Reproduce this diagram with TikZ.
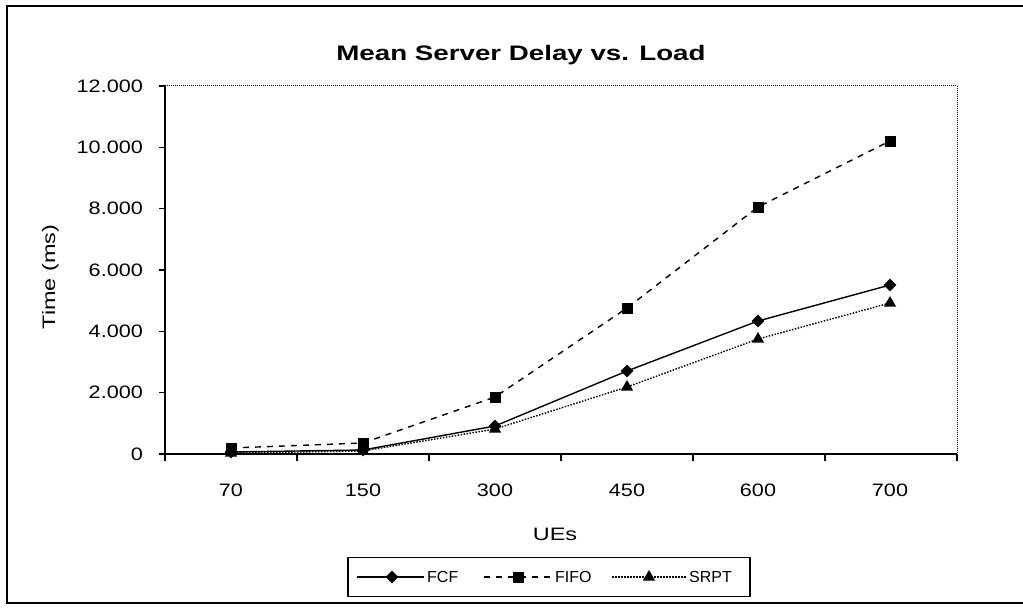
\documentclass[tikz,border=0pt]{standalone}
\usepackage{fontspec}
\setmainfont{Liberation Sans}
\newfontfamily\tickfont[FakeStretch=1.2]{Liberation Sans}
\newfontfamily\axfont[FakeStretch=1.3]{Liberation Sans}
\newfontfamily\ttlfont[FakeStretch=1.32]{Liberation Sans}
\usetikzlibrary{shapes.geometric}
\begin{document}
\begin{tikzpicture}[x=1pt,y=-1pt,
  ticklab/.style={font=\tickfont\fontsize{18}{20}\selectfont, inner sep=0pt},
  axlab/.style={font=\axfont\fontsize{18}{20}\selectfont, inner sep=0pt},
  leglab/.style={font=\fontsize{16}{18}\selectfont, inner sep=0pt},
  ttl/.style={font=\ttlfont\bfseries\fontsize{21}{24}\selectfont, inner sep=0pt},
  fcf/.style={line width=1.4pt},
  fifo/.style={line width=1.4pt, dash pattern=on 6pt off 6pt},
  srpt/.style={line width=1.4pt, dash pattern=on 1.5pt off 1.5pt},
  dmk/.style={diamond, fill=black, inner sep=0pt, minimum width=13pt, minimum height=13pt},
  smk/.style={rectangle, fill=black, inner sep=0pt, minimum size=11pt},
  tmk/.style={regular polygon, regular polygon sides=3, fill=black, inner sep=0pt, minimum size=14pt},
  tickln/.style={line width=1.2pt}
]
\useasboundingbox[fill=white] (0,0) rectangle (1023,610);
% outer frame
\coordinate (o1) at (1030,6);
\coordinate (o2) at (7,6);
\coordinate (o3) at (7,603);
\coordinate (o4) at (1030,603);
\draw[line width=2pt] (o1) -- (o2) -- (o3) -- (o4);
% title
\node[ttl, anchor=base] (title) at (521,60) {Mean Server Delay vs. Load};
% plot area
\coordinate (pTL) at (165,86);
\coordinate (pTR) at (957,86);
\coordinate (pBR) at (957,454);
\coordinate (pBL) at (165,454);
\draw[densely dotted, line width=1pt] (pTL) -- (pTR) -- (pBR);
\draw[line width=1.3pt] (pTL) -- (pBL) -- (pBR);
% y ticks
\foreach \yy/\lab [count=\i] in {86/12.000, 147.33/10.000, 208.67/8.000, 270/6.000, 331.33/4.000, 392.67/2.000, 454/0}{
  \coordinate (yt\i) at (165,\yy);
  \coordinate (ytl\i) at (159,\yy);
  \draw[tickln] (yt\i) -- (ytl\i);
  \node[ticklab, anchor=east] (ylab\i) at (143,\yy) {\lab};
}
% x ticks
\foreach \xx [count=\i] in {165,297,429,561,693,825,957}{
  \coordinate (xt\i) at (\xx,454);
  \coordinate (xtl\i) at (\xx,461);
  \draw[tickln] (xt\i) -- (xtl\i);
}
\foreach \xx/\lab [count=\i] in {231/70, 363/150, 495/300, 627/450, 758/600, 890/700}{
  \node[ticklab, anchor=base] (xlab\i) at (\xx,496) {\lab};
}
% axis titles
\node[axlab, anchor=base] (xtitle) at (555,540) {UEs};
\node[axlab, rotate=90, anchor=base] (ytitle) at (55,277) {Time (ms)};
% data
\foreach \xx/\ya/\yb/\yc [count=\i] in {231/452/448/453, 363/450/443/451, 495/426/397/429, 627/371/308/387, 758/321/207/339, 890/285/141/303}{
  \coordinate (F\i) at (\xx,\ya);
  \coordinate (I\i) at (\xx,\yb);
  \coordinate (S\i) at (\xx,\yc);
}
\draw[srpt] (S1) -- (S2) -- (S3) -- (S4) -- (S5) -- (S6);
\draw[fifo] (I1) -- (I2) -- (I3) -- (I4) -- (I5) -- (I6);
\draw[fcf] (F1) -- (F2) -- (F3) -- (F4) -- (F5) -- (F6);
\foreach \i in {1,...,6}{
  \node[smk] (mI\i) at (I\i) {};
  \node[dmk] (mF\i) at (F\i) {};
  \node[tmk] (mS\i) at (S\i) {};
}
% legend
\node[draw, line width=1.3pt, minimum width=402pt, minimum height=39pt, inner sep=0pt] (leg) at (549,577) {};
\coordinate (la1) at (357,577);
\coordinate (lb1) at (424,577);
\draw[fcf] (la1) -- (lb1);
\node[dmk] (lm1) at (392,577) {};
\node[leglab, anchor=west] (lt1) at (427,577) {FCF};
\coordinate (la2) at (484,577);
\coordinate (lb2) at (552,577);
\draw[fifo] (la2) -- (lb2);
\node[smk] (lm2) at (518,577) {};
\node[leglab, anchor=west] (lt2) at (555,577) {FIFO};
\coordinate (la3) at (612,577);
\coordinate (lb3) at (686,577);
\draw[srpt] (la3) -- (lb3);
\node[tmk] (lm3) at (649,577) {};
\node[leglab, anchor=west] (lt3) at (689,577) {SRPT};
\end{tikzpicture}
\end{document}
